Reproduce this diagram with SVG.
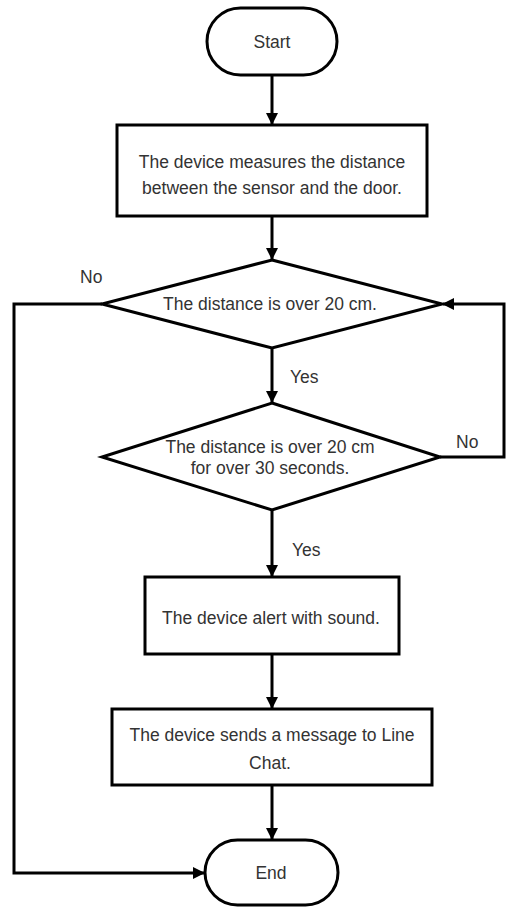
<svg xmlns="http://www.w3.org/2000/svg" width="509" height="907" viewBox="0 0 509 907">
<defs>
<style>
.shape{fill:#fff;stroke:#000;stroke-width:3}
.edge{fill:none;stroke:#000;stroke-width:3}
text{font-family:"Liberation Sans",Arial,sans-serif;font-size:17.5px;fill:#333;text-anchor:middle}
.lbl{text-anchor:start}
</style>
<marker id="arr" viewBox="0 0 12 12" refX="11" refY="6" markerWidth="12" markerHeight="12" markerUnits="userSpaceOnUse" orient="auto">
<path d="M0,0 L12,6 L0,12 Z" fill="#000"/>
</marker>
</defs>
<rect width="509" height="907" fill="#fff"/>
<g id="connectors">
<path class="edge" d="M272,75 V124" marker-end="url(#arr)"/>
<path class="edge" d="M272,216 V259" marker-end="url(#arr)"/>
<path class="edge" d="M272,348 V402" marker-end="url(#arr)"/>
<path class="edge" d="M272,510 V576" marker-end="url(#arr)"/>
<path class="edge" d="M272,654 V708" marker-end="url(#arr)"/>
<path class="edge" d="M272,785 V839" marker-end="url(#arr)"/>
<path class="edge" d="M102,304 H14 V873 H204" marker-end="url(#arr)"/>
<path class="edge" d="M440,457 H504 V304 H443" marker-end="url(#arr)"/>
<text class="lbl" x="80" y="283">No</text>
<text class="lbl" x="290" y="383">Yes</text>
<text class="lbl" x="456" y="448">No</text>
<text class="lbl" x="292" y="556">Yes</text>
</g>
<g id="start">
<rect class="shape" x="207" y="8" width="130" height="67" rx="33.5"/>
<text x="272" y="48">Start</text>
</g>
<g id="measure">
<rect class="shape" x="117" y="125" width="310" height="91"/>
<text x="272" y="168">The device measures the distance</text>
<text x="272" y="194">between the sensor and the door.</text>
</g>
<g id="check1">
<path class="shape" d="M272,260 L442,304 L272,348 L102,304 Z"/>
<text x="270" y="310">The distance is over 20 cm.</text>
</g>
<g id="check2">
<path class="shape" d="M272,403 L440,457 L272,510 L102,457 Z"/>
<text x="270" y="453">The distance is over 20 cm</text>
<text x="270" y="474">for over 30 seconds.</text>
</g>
<g id="alert">
<rect class="shape" x="145" y="577" width="254" height="77"/>
<text x="271" y="624">The device alert with sound.</text>
</g>
<g id="message">
<rect class="shape" x="112" y="709" width="320" height="76"/>
<text x="272" y="741">The device sends a message to Line</text>
<text x="270" y="769">Chat.</text>
</g>
<g id="end">
<rect class="shape" x="205" y="840" width="133" height="65" rx="32.5"/>
<text x="271" y="879">End</text>
</g>
</svg>
